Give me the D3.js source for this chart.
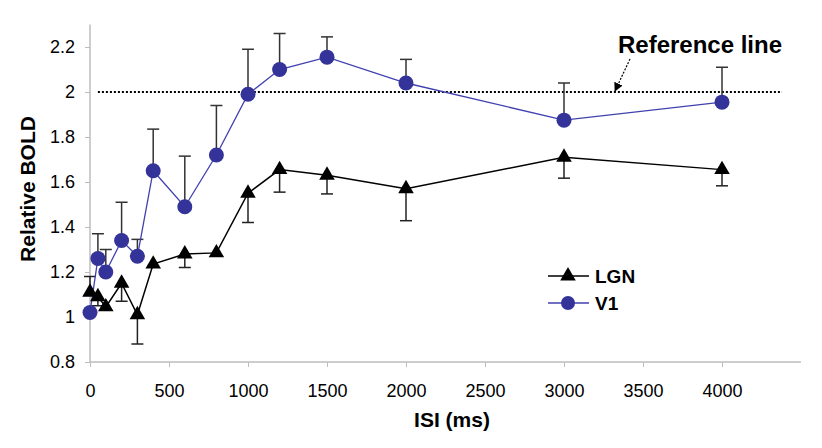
<!DOCTYPE html>
<html><head><meta charset="utf-8">
<script src="https://cdn.jsdelivr.net/npm/d3@7"></script>
<style>body{margin:0;background:#fff}svg{display:block}text{font-family:"Liberation Sans",Arial,sans-serif}</style>
</head><body>
<script>
const isi = [0, 50, 100, 200, 300, 400, 600, 800, 1000, 1200, 1500, 2000, 3000, 4000];
const v1 = [1.02, 1.26, 1.20, 1.34, 1.27, 1.65, 1.49, 1.72, 1.99, 2.10, 2.155, 2.04, 1.875, 1.955];
const v1ErrEnd = [null, 1.37, 1.30, 1.51, 1.345, 1.835, 1.715, 1.94, 2.19, 2.26, 2.245, 2.145, 2.04, 2.11];
const lgn = [1.11, 1.09, 1.045, 1.15, 1.01, 1.235, 1.28, 1.285, 1.55, 1.655, 1.63, 1.57, 1.71, 1.655];
const lgnErrEnd = [1.18, 1.05, null, 1.07, 0.88, null, 1.22, null, 1.42, 1.555, 1.547, 1.428, 1.617, 1.583];
const xTicks = [0, 500, 1000, 1500, 2000, 2500, 3000, 3500, 4000];
const yTicks = [0.8, 1, 1.2, 1.4, 1.6, 1.8, 2, 2.2];
const refValue = 2;
const refSpan = [50, 4380];

const W = 822, H = 448;
const svg = d3.select("body").append("svg").attr("width", W).attr("height", H);
const x = d3.scaleLinear().domain([0, 4500]).range([90, 801]);
const y = d3.scaleLinear().domain([0.8, 2.3]).range([362, 24.5]);
const axisCol = "#bdbdbd";
const ff = "Liberation Sans, Arial, sans-serif";

// axes
const gx = svg.append("g").attr("transform", `translate(0,${y(0.8)})`)
  .call(d3.axisBottom(x).tickValues(xTicks).tickSize(5).tickPadding(17).tickFormat(d3.format("d")));
gx.select(".domain").attr("stroke", axisCol).attr("stroke-width", 1.5).attr("d", `M${x(0)},0H${x(4500)}`);
gx.selectAll(".tick line").attr("stroke", axisCol);
gx.selectAll(".tick text").attr("font-size", 18).attr("fill", "#000").attr("font-family", ff);

const gy = svg.append("g").attr("transform", `translate(${x(0)},0)`)
  .call(d3.axisLeft(y).tickValues(yTicks).tickSize(5).tickPadding(10).tickFormat(d => d3.format("")(+d.toFixed(1))));
gy.select(".domain").attr("stroke", axisCol).attr("stroke-width", 1.5).attr("d", `M0,${y(0.8)}V${y(2.3)}`);
gy.selectAll(".tick line").attr("stroke", axisCol);
gy.selectAll(".tick text").attr("font-size", 18).attr("fill", "#000").attr("font-family", ff);

// labels
svg.append("text").attr("x", 452).attr("y", 427).attr("text-anchor", "middle")
  .attr("font-size", 21).attr("font-weight", "bold").text("ISI (ms)");
svg.append("text").attr("transform", `translate(35,189) rotate(-90)`).attr("text-anchor", "middle")
  .attr("font-size", 21).attr("font-weight", "bold").text("Relative BOLD");

// reference line
svg.append("line").attr("x1", x(refSpan[0])).attr("x2", x(refSpan[1])).attr("y1", y(refValue)).attr("y2", y(refValue))
  .attr("stroke", "#000").attr("stroke-width", 2).attr("stroke-dasharray", "2,2");
svg.append("text").attr("x", 700).attr("y", 53).attr("text-anchor", "middle")
  .attr("font-size", 24).attr("font-weight", "bold").text("Reference line");
svg.append("defs").append("marker").attr("id", "ah").attr("viewBox", "0 0 10 10").attr("refX", 9).attr("refY", 5)
  .attr("markerWidth", 9).attr("markerHeight", 9).attr("orient", "auto").attr("markerUnits", "userSpaceOnUse")
  .append("path").attr("d", "M0,0L10,5L0,10z").attr("fill", "#000");
svg.append("line").attr("x1", 630).attr("y1", 59).attr("x2", 615).attr("y2", 91)
  .attr("stroke", "#000").attr("stroke-width", 1.2).attr("stroke-dasharray", "2,1.5").attr("marker-end", "url(#ah)");

const blue = "#333399", blueLine = "#4040b0";
const tri = d3.symbol().type(d3.symbolTriangle).size(105);

// error bars
function errBars(vals, ends, col) {
  const g = svg.append("g").attr("stroke", col).attr("stroke-width", 1.5);
  isi.forEach((t, i) => {
    if (ends[i] == null) return;
    g.append("line").attr("x1", x(t)).attr("x2", x(t)).attr("y1", y(vals[i])).attr("y2", y(ends[i]));
    g.append("line").attr("x1", x(t) - 6).attr("x2", x(t) + 6).attr("y1", y(ends[i])).attr("y2", y(ends[i]));
  });
}
errBars(v1, v1ErrEnd, "#333");
errBars(lgn, lgnErrEnd, "#222");

const line = d3.line().x((d, i) => x(isi[i])).y(d => y(d));
svg.append("path").datum(lgn).attr("d", line).attr("fill", "none").attr("stroke", "#000").attr("stroke-width", 1.5);
svg.append("path").datum(v1).attr("d", line).attr("fill", "none").attr("stroke", blueLine).attr("stroke-width", 1.3);

svg.append("g").selectAll("path").data(lgn).join("path")
  .attr("d", tri).attr("transform", (d, i) => `translate(${x(isi[i])},${y(d)})`).attr("fill", "#000");
svg.append("g").selectAll("circle").data(v1).join("circle")
  .attr("cx", (d, i) => x(isi[i])).attr("cy", d => y(d)).attr("r", 7.5).attr("fill", blue);

// legend
const lg = svg.append("g");
lg.append("line").attr("x1", 548).attr("x2", 589).attr("y1", 276).attr("y2", 276).attr("stroke", "#000").attr("stroke-width", 1.5);
lg.append("path").attr("d", tri).attr("transform", "translate(568,276)").attr("fill", "#000");
lg.append("text").attr("x", 595).attr("y", 283).attr("font-size", 19).attr("font-weight", "bold").text("LGN");
lg.append("line").attr("x1", 548).attr("x2", 589).attr("y1", 303).attr("y2", 303).attr("stroke", blueLine).attr("stroke-width", 1.3);
lg.append("circle").attr("cx", 568).attr("cy", 303).attr("r", 7).attr("fill", blue);
lg.append("text").attr("x", 595).attr("y", 310).attr("font-size", 19).attr("font-weight", "bold").text("V1");
</script>
</body></html>
